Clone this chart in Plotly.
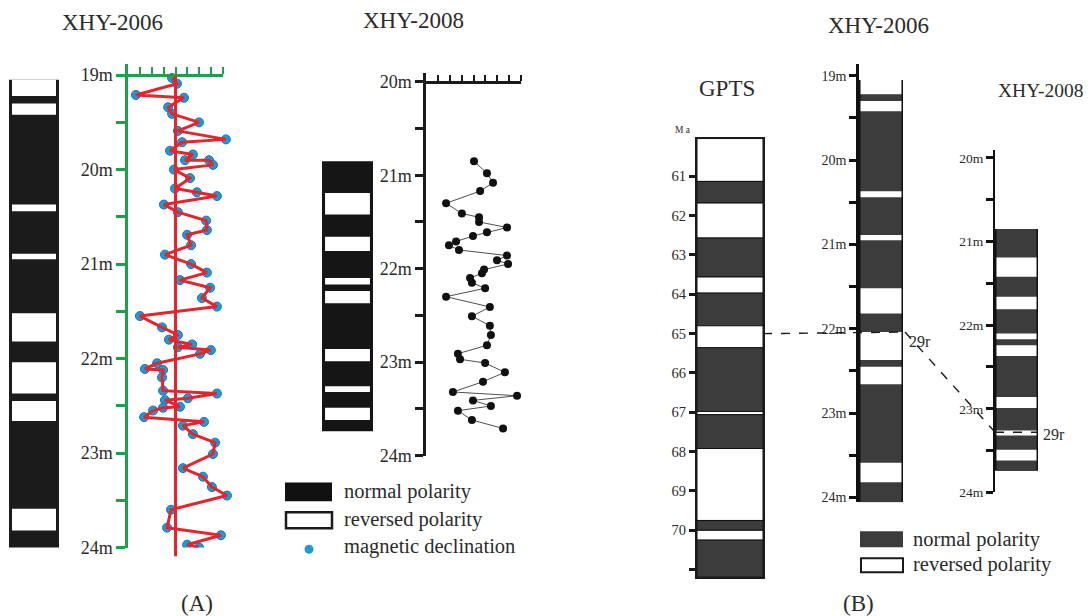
import plotly.graph_objects as go

# Page coordinates (pixels of the 1092x616 picture). The capture compresses the page
# vertically by ~616/625, so the figure is made 625 px tall and positioned in paper
# fractions of the 616 px picture.
W, PAGE_H = 1092, 616
FIG_H = 625

# ---------------- data ----------------
# (A) XHY-2006: magnetic declination (deg) vs depth (m)
a2006_depth = [19.03, 19.09, 19.21, 19.24, 19.34, 19.41, 19.50, 19.59, 19.68, 19.71,
               19.80, 19.84, 19.90, 19.90, 19.95, 20.00, 20.09, 20.20, 20.24, 20.28,
               20.37, 20.45, 20.54, 20.64, 20.69, 20.80, 20.90, 21.00, 21.09, 21.17,
               21.25, 21.36, 21.45, 21.55, 21.67, 21.75, 21.80, 21.85, 21.88, 21.91,
               21.95, 22.05, 22.11, 22.12, 22.20, 22.34, 22.37, 22.42, 22.44, 22.51,
               22.52, 22.55, 22.62, 22.67, 22.71, 22.80, 22.89, 23.01, 23.16, 23.25,
               23.36, 23.45, 23.60, 23.79, 23.87, 23.97, 24.00]
a2006_decl = [167, 186, 30, 212, 152, 167, 269, 189, 371, 205,
              159, 246, 216, 307, 322, 174, 235, 178, 261, 337,
              136, 189, 296, 299, 224, 239, 140, 239, 299, 197,
              311, 280, 337, 45, 129, 189, 155, 243, 189, 314,
              273, 110, 64, 133, 129, 133, 337, 227, 140, 197,
              133, 95, 61, 288, 208, 246, 330, 322, 208, 284,
              318, 375, 163, 148, 352, 224, 269]

# (A) XHY-2008: magnetic declination (deg) vs depth (m)
a2008_depth = [20.85, 20.98, 21.08, 21.17, 21.30, 21.41, 21.45, 21.50, 21.56, 21.61,
               21.65, 21.71, 21.75, 21.80, 21.86, 21.91, 21.95, 22.01, 22.05, 22.10,
               22.15, 22.21, 22.30, 22.41, 22.51, 22.61, 22.71, 22.82, 22.91, 22.97,
               23.01, 23.11, 23.21, 23.32, 23.36, 23.41, 23.47, 23.52, 23.62, 23.71]
a2008_decl = [182, 231, 254, 205, 76, 136, 201, 201, 307, 231,
              178, 114, 87, 125, 307, 269, 311, 220, 212, 167,
              174, 224, 76, 242, 174, 242, 246, 231, 121, 129,
              224, 299, 216, 102, 345, 178, 246, 121, 174, 292]
ref_declination = 180

# Polarity columns (depth in m)
xhy2006_frame_top = 19.05
xhy2006_top = 19.22
xhy2006_bottom = 24.06
xhy2006_rev_top = [19.30, 20.37, 20.89, 21.52, 22.04, 22.45, 23.59]
xhy2006_rev_bot = [19.42, 20.44, 20.95, 21.82, 22.37, 22.66, 23.82]

xhy2008_top = 20.85
xhy2008_bottom = 23.74
xhy2008_rev_top = [21.19, 21.66, 22.10, 22.24, 22.86, 23.26, 23.49]
xhy2008_rev_bot = [21.42, 21.81, 22.17, 22.37, 22.99, 23.32, 23.62]

# GPTS (Ma)
gpts_bounds = [60.04, 61.13, 61.68, 62.57, 63.56, 63.97, 64.80, 65.36,
               66.98, 67.06, 67.92, 69.75, 70.00, 70.25, 71.19]
gpts_polarity = ['R', 'N', 'R', 'N', 'R', 'N', 'R', 'N', 'R', 'N', 'R', 'N', 'R', 'N']
gpts_chron = ['26r', '27n', '27r', '28n', '28r', '29n', '29r', '30n', '31r', '31n', '31r']
gpts_chron_age = [60.52, 61.35, 62.12, 63.03, 63.76, 64.39, 65.05, 66.17, 67.01, 67.54, 68.86]
gpts_ticks = [61, 62, 63, 64, 65, 66, 67, 68, 69, 70, 71]
gpts_ticklabels = ['61', '62', '63', '64', '65', '66', '67', '68', '69', '70', '']

depth_ticks_2006 = [19, 19.5, 20, 20.5, 21, 21.5, 22, 22.5, 23, 23.5, 24]
depth_ticks_2008 = [20, 20.5, 21, 21.5, 22, 22.5, 23, 23.5, 24]
decl_ticks = [45, 90, 135, 180, 225, 270, 315, 360]

tie_label = '29r'
tie_gpts_age = 65.0
tie_xhy2006_depth = 22.04
tie_xhy2008_depth = 23.28

legend_a = ['normal polarity', 'reversed polarity', 'magnetic declination']
legend_b = ['normal polarity', 'reversed polarity']

# ---------------- styling / layout helpers ----------------
SERIF = 'Liberation Serif'
TXT = '#2b2b2b'
GREEN = '#1fa04a'
RED = '#e8232b'
BLUE = '#1e9ad6'
BLACK = '#1b1b1b'
DARK = '#3c3c3c'


def px(p):
    return p / W


def py(p):
    return 1 - p / PAGE_H


def xdom(a, b):
    return [px(a), px(b)]


def ydom(top, bot):
    return [py(bot), py(top)]


def lab(vals, unit='m'):
    return [f'{int(v)}{unit}' if float(v).is_integer() else '' for v in vals]


# vertical axis specs (page pixels): (top_px, bottom_px, top_value, bottom_value)
A06 = (63.0, 548.3, 18.88, 24.0)
A08 = (72.6, 456.0, 19.91, 24.0)
GP = (138.0, 578.0, gpts_bounds[0], gpts_bounds[-1])
B06 = (63.2, 503.0, 18.86, 24.06)
B08 = (149.0, 493.0, 19.90, 24.0)


def to_px(v, spec):
    t, b, tv, bv = spec
    return t + (v - tv) / (bv - tv) * (b - t)


def yaxis_cfg(spec, anchor, color, tickvals, ticktext, size, ticklen, lw):
    t, b, tv, bv = spec
    return dict(domain=ydom(t, b), range=[bv, tv], anchor=anchor,
                showline=True, linecolor=color, linewidth=lw,
                ticks='outside', ticklen=ticklen, tickwidth=2.5, tickcolor=color,
                tickvals=tickvals, ticktext=ticktext,
                tickfont=dict(family=SERIF, size=size, color=TXT),
                showgrid=False, zeroline=False, fixedrange=True)


HID = dict(visible=False, showgrid=False, zeroline=False, fixedrange=True)

fig = go.Figure()


def column(xa, ya, tops, bots, color, width, line_w=0):
    fig.add_trace(go.Bar(
        x=[0.5] * len(tops), y=[b - t for t, b in zip(tops, bots)], base=tops,
        width=[width] * len(tops),
        marker=dict(color=color, line=dict(width=line_w, color='#111')),
        xaxis=xa, yaxis=ya, hoverinfo='skip', showlegend=False))


# ---- (A) XHY-2006 polarity column ----
column('x3', 'y', [xhy2006_frame_top], [xhy2006_bottom], BLACK, 1.0)
column('x3', 'y', [xhy2006_frame_top], [xhy2006_top], 'white', 0.88)
column('x3', 'y', xhy2006_rev_top, xhy2006_rev_bot, 'white', 0.88)

# ---- (A) XHY-2006 declination ----
fig.add_trace(go.Scatter(x=a2006_decl, y=a2006_depth, mode='markers',
                         marker=dict(color=BLUE, size=9, line=dict(color='#1676ad', width=1)),
                         xaxis='x', yaxis='y', hoverinfo='skip', showlegend=False))
fig.add_trace(go.Scatter(x=a2006_decl, y=a2006_depth, mode='lines',
                         line=dict(color=RED, width=3),
                         xaxis='x', yaxis='y', hoverinfo='skip', showlegend=False))
fig.add_trace(go.Scatter(x=[], y=[], xaxis='x2', yaxis='y', showlegend=False))

# ---- (A) XHY-2008 polarity column & declination ----
column('x6', 'y2', [xhy2008_top], [xhy2008_bottom], '#151515', 1.0)
column('x6', 'y2', xhy2008_rev_top, xhy2008_rev_bot, 'white', 0.88)
fig.add_trace(go.Scatter(x=a2008_decl, y=a2008_depth, mode='lines+markers',
                         line=dict(color='#222', width=0.8),
                         marker=dict(color='#111', size=8),
                         xaxis='x4', yaxis='y2', hoverinfo='skip', showlegend=False))
fig.add_trace(go.Scatter(x=[], y=[], xaxis='x5', yaxis='y2', showlegend=False))

# ---- (B) GPTS ----
for i, p in enumerate(gpts_polarity):
    column('x7', 'y3', [gpts_bounds[i]], [gpts_bounds[i + 1]],
           DARK if p == 'N' else 'white', 1.0, line_w=1)
fig.add_trace(go.Scatter(x=[1.1] * len(gpts_chron), y=gpts_chron_age, text=gpts_chron,
                         mode='text', textposition='middle right',
                         textfont=dict(family=SERIF, size=16, color=TXT),
                         cliponaxis=False, xaxis='x7', yaxis='y3',
                         hoverinfo='skip', showlegend=False))

# ---- (B) XHY-2006 ----
column('x8', 'y4', [xhy2006_frame_top], [xhy2006_bottom], '#111', 1.0)
column('x8', 'y4', [xhy2006_top], [xhy2006_bottom], DARK, 0.93)
column('x8', 'y4', [xhy2006_frame_top], [xhy2006_top], 'white', 0.93)
column('x8', 'y4', xhy2006_rev_top, xhy2006_rev_bot, 'white', 0.93)

# ---- (B) XHY-2008 ----
column('x9', 'y5', [xhy2008_top], [xhy2008_bottom], '#111', 1.0)
column('x9', 'y5', [xhy2008_top], [xhy2008_bottom], DARK, 0.93)
column('x9', 'y5', xhy2008_rev_top, xhy2008_rev_bot, 'white', 0.93)

# ---------------- axes ----------------
fig.update_layout(
    xaxis=dict(domain=xdom(128, 240), range=[0, (240 - 128) * 360 / 95], anchor='y', **HID),
    yaxis=yaxis_cfg(A06, 'x', GREEN, depth_ticks_2006, lab(depth_ticks_2006), 18, 9, 2.5),
    xaxis2=dict(domain=xdom(128, 223), range=[0, 360], anchor='free', position=py(74.5),
                side='top', showline=True, linecolor=GREEN, linewidth=3,
                ticks='outside', ticklen=7, tickwidth=2, tickcolor=GREEN,
                tickvals=decl_ticks, showticklabels=False,
                showgrid=False, zeroline=False, fixedrange=True),
    xaxis3=dict(domain=xdom(9, 59), range=[0, 1], anchor='y', **HID),

    yaxis2=yaxis_cfg(A08, 'x4', '#1a1a1a', depth_ticks_2008, lab(depth_ticks_2008), 18, 8, 2.5),
    xaxis4=dict(domain=xdom(426, 530), range=[0, (530 - 426) * 360 / 95], anchor='y2', **HID),
    xaxis5=dict(domain=xdom(426, 521), range=[0, 360], anchor='free', position=py(81),
                side='top', showline=True, linecolor='#1a1a1a', linewidth=3,
                ticks='outside', ticklen=6, tickwidth=1.5, tickcolor='#1a1a1a',
                tickvals=decl_ticks, showticklabels=False,
                showgrid=False, zeroline=False, fixedrange=True),
    xaxis6=dict(domain=xdom(322, 373), range=[0, 1], anchor='y2', **HID),

    yaxis3=dict(yaxis_cfg(GP, 'x7', '#1a1a1a', gpts_ticks, gpts_ticklabels, 14.5, 6, 2), mirror=True),
    xaxis7=dict(domain=xdom(697, 763), range=[0, 1], anchor='y3', showline=True, mirror=True,
                linecolor='#1a1a1a', linewidth=2, ticks='', showticklabels=False,
                showgrid=False, zeroline=False, fixedrange=True),

    yaxis4=yaxis_cfg(B06, 'x8', '#111', depth_ticks_2006, lab(depth_ticks_2006), 14, 7, 2.5),
    xaxis8=dict(domain=xdom(859, 903), range=[0, 1], anchor='y4', **HID),

    yaxis5=yaxis_cfg(B08, 'x9', '#111', depth_ticks_2008, lab(depth_ticks_2008), 13.5, 7, 2),
    xaxis9=dict(domain=xdom(995, 1038), range=[0, 1], anchor='y5', **HID),
)

# ---------------- shapes ----------------
shapes = []
# reference declination line (A, XHY-2006)
shapes.append(dict(type='line', xref='x', yref='paper', x0=ref_declination, x1=ref_declination,
                   y0=py(557), y1=py(75), line=dict(color=RED, width=3)))

# correlation of chron 29r
yg = to_px(tie_gpts_age, GP)
y6 = to_px(tie_xhy2006_depth, B06)
y8 = to_px(tie_xhy2008_depth, B08)
DASH = dict(color='#1a1a1a', width=1.4, dash='dash')
shapes.append(dict(type='line', xref='paper', yref='paper', x0=px(763), x1=px(905),
                   y0=py(yg), y1=py(y6), line=DASH))
shapes.append(dict(type='line', xref='paper', yref='paper', x0=px(905), x1=px(995),
                   y0=py(y6), y1=py(y8), line=DASH))
shapes.append(dict(type='line', xref='paper', yref='paper', x0=px(995), x1=px(1038),
                   y0=py(y8), y1=py(y8), line=DASH))

# legend swatches (A)
shapes.append(dict(type='rect', xref='paper', yref='paper', x0=px(285), x1=px(332),
                   y0=py(502), y1=py(483), fillcolor='#111', line=dict(width=0)))
shapes.append(dict(type='rect', xref='paper', yref='paper', x0=px(286), x1=px(332),
                   y0=py(529), y1=py(513), fillcolor='white',
                   line=dict(color='#1a1a1a', width=2.5)))
shapes.append(dict(type='circle', xref='paper', yref='paper', x0=px(304.5), x1=px(313.5),
                   y0=py(554.5), y1=py(545.5), fillcolor=BLUE, line=dict(width=0)))
# legend swatches (B)
shapes.append(dict(type='rect', xref='paper', yref='paper', x0=px(860), x1=px(903),
                   y0=py(548), y1=py(532), fillcolor=DARK, line=dict(width=0)))
shapes.append(dict(type='rect', xref='paper', yref='paper', x0=px(861), x1=px(903),
                   y0=py(573), y1=py(559), fillcolor='white',
                   line=dict(color='#1a1a1a', width=2)))
fig.update_layout(shapes=shapes)

# ---------------- annotations ----------------
ann = []


def text(x, y, s, size, xanchor='center'):
    ann.append(dict(x=px(x), y=py(y), xref='paper', yref='paper', text=s, showarrow=False,
                    xanchor=xanchor, yanchor='middle',
                    font=dict(family=SERIF, size=size, color=TXT)))


text(113, 22, 'XHY-2006', 23)
text(413, 20, 'XHY-2008', 23)
text(878, 25, 'XHY-2006', 23)
text(1041, 90, 'XHY-2008', 19.5)
text(727, 88, 'GPTS', 23)
text(683, 129, 'M a', 9.5)
text(197, 604, '(A)', 23)
text(858, 604, '(B)', 23)
for s, yy in zip(legend_a, [492, 520, 547]):
    text(342, yy, s, 20.5, 'left')
for s, yy in zip(legend_b, [540, 565]):
    text(911, yy, s, 20.5, 'left')
text(907, y6 + 9, tie_label, 16, 'left')
text(1041, y8 + 2, tie_label, 16, 'left')
fig.update_layout(annotations=ann)

fig.update_layout(width=W, height=FIG_H, autosize=False, margin=dict(l=0, r=0, t=0, b=0),
                  paper_bgcolor='white', plot_bgcolor='rgba(0,0,0,0)', barmode='overlay',
                  showlegend=False, font=dict(family=SERIF, color=TXT))

fig.write_html('out.html', config={'displayModeBar': False},
               post_script="document.body.style.margin='0';document.body.style.overflow='hidden';")
